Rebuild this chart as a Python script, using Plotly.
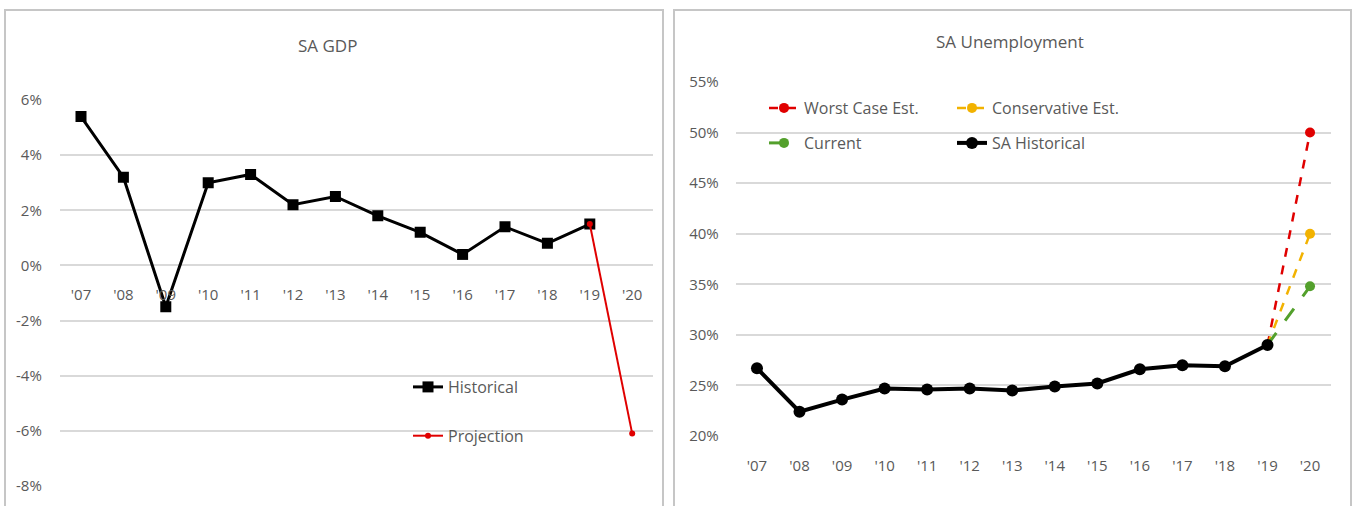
import plotly.graph_objects as go

W, H = 1358, 506

years = ["'07", "'08", "'09", "'10", "'11", "'12", "'13", "'14", "'15", "'16", "'17", "'18", "'19", "'20"]

# SA GDP growth (%)
gdp_hist_x = years[:13]
gdp_hist = [5.4, 3.2, -1.5, 3.0, 3.3, 2.2, 2.5, 1.8, 1.2, 0.4, 1.4, 0.8, 1.5]
gdp_proj_x = ["'19", "'20"]
gdp_proj = [1.5, -6.1]

# SA Unemployment (%)
unemp_hist_x = years[:13]
unemp_hist = [26.7, 22.4, 23.6, 24.7, 24.6, 24.7, 24.5, 24.9, 25.2, 26.6, 27.0, 26.9, 29.0]
proj_x = ["'19", "'20"]
worst_case = [29.0, 50.0]
conservative = [29.0, 40.0]
current = [29.0, 34.8]

gdp_ticks = [-8, -6, -4, -2, 0, 2, 4, 6]
gdp_ticktext = ["-8%", "-6%", "-4%", "-2%", "0%", "2%", "4%", "6%"]
un_ticks = [20, 25, 30, 35, 40, 45, 50, 55]
un_ticktext = ["20%", "25%", "30%", "35%", "40%", "45%", "50%", "55%"]

FONT = "Open Sans"
TXT = "#595959"
GRID = "#d9d9d9"
RED = "#e00000"
GOLD = "#f2b200"
GREEN = "#53a02c"

def px(x):
    return x / W

def py(y):
    return 1 - y / H

fig = go.Figure()

# Left chart
fig.add_trace(go.Scatter(x=gdp_hist_x, y=gdp_hist, mode="lines+markers", name="Historical",
                         line=dict(color="black", width=3), marker=dict(symbol="square", size=11, color="black"),
                         xaxis="x", yaxis="y", legend="legend", legendgroup="h"))
fig.add_trace(go.Scatter(x=gdp_proj_x, y=gdp_proj, mode="lines+markers", name="Projection",
                         line=dict(color=RED, width=2), marker=dict(symbol="circle", size=6, color=RED),
                         xaxis="x", yaxis="y", legend="legend", legendgroup="p"))

# Right chart
fig.add_trace(go.Scatter(x=proj_x, y=worst_case, mode="lines+markers", name="Worst Case Est.",
                         line=dict(color=RED, width=2.5, dash="dash"), marker=dict(size=10, color=RED),
                         xaxis="x2", yaxis="y2", legend="legend2"))
fig.add_trace(go.Scatter(x=proj_x, y=conservative, mode="lines+markers", name="Conservative Est.",
                         line=dict(color=GOLD, width=2.5, dash="dash"), marker=dict(size=10, color=GOLD),
                         xaxis="x2", yaxis="y2", legend="legend2"))
fig.add_trace(go.Scatter(x=proj_x, y=current, mode="lines+markers", name="Current",
                         line=dict(color=GREEN, width=3, dash="longdash"), marker=dict(size=10, color=GREEN),
                         xaxis="x2", yaxis="y2", legend="legend3"))
fig.add_trace(go.Scatter(x=unemp_hist_x, y=unemp_hist, mode="lines+markers", name="SA Historical",
                         line=dict(color="black", width=4), marker=dict(size=12, color="black"),
                         xaxis="x2", yaxis="y2", legend="legend3"))

axis_common = dict(showline=False, zeroline=False, tickfont=dict(family=FONT, size=15, color=TXT),
                   fixedrange=True, automargin=False)

fig.update_layout(
    width=W, height=H,
    margin=dict(l=0, r=0, t=0, b=0, autoexpand=False),
    paper_bgcolor="white", plot_bgcolor="rgba(0,0,0,0)",
    font=dict(family=FONT, color=TXT),
    xaxis=dict(domain=[px(59.8), px(653.4)], type="category", categoryorder="array", categoryarray=years,
               range=[-0.5, 13.5], anchor="free", position=py(265), showgrid=False,
               ticks="outside", ticklen=16, tickcolor="rgba(0,0,0,0)", **axis_common),
    yaxis=dict(domain=[py(486), py(100)], range=[-8, 6], tickvals=gdp_ticks, ticktext=gdp_ticktext,
               showgrid=True, gridcolor=GRID, gridwidth=1.5, anchor="x",
               ticks="outside", ticklen=14, tickcolor="rgba(0,0,0,0)", **axis_common),
    xaxis2=dict(domain=[px(735.7), px(1331.3)], type="category", categoryorder="array", categoryarray=years,
                range=[-0.5, 13.5], anchor="y2", showgrid=False,
                ticks="outside", ticklen=16, tickcolor="rgba(0,0,0,0)", **axis_common),
    yaxis2=dict(domain=[py(436), py(82)], range=[20, 55], tickvals=un_ticks, ticktext=un_ticktext,
                showgrid=True, gridcolor=GRID, gridwidth=1.5, anchor="x2",
                ticks="outside", ticklen=13, tickcolor="rgba(0,0,0,0)", **axis_common),
    legend=dict(x=px(408), y=py(370), xanchor="left", yanchor="top", orientation="v",
                traceorder="grouped", tracegroupgap=25, bgcolor="rgba(0,0,0,0)",
                font=dict(family=FONT, size=16, color=TXT), itemwidth=30),
    legend2=dict(x=px(764), y=py(108), xanchor="left", yanchor="middle", orientation="h",
                 entrywidth=143, entrywidthmode="pixels", bgcolor="rgba(0,0,0,0)",
                 font=dict(family=FONT, size=16, color=TXT), itemwidth=30),
    legend3=dict(x=px(764), y=py(143), xanchor="left", yanchor="middle", orientation="h",
                 entrywidth=143, entrywidthmode="pixels", bgcolor="rgba(0,0,0,0)",
                 font=dict(family=FONT, size=16, color=TXT), itemwidth=30),
    showlegend=True,
    annotations=[
        dict(text="SA GDP", x=px(327), y=py(45), xref="paper", yref="paper", showarrow=False,
             font=dict(family=FONT, size=17, color=TXT), xanchor="center", yanchor="middle"),
        dict(text="SA Unemployment", x=px(1010), y=py(42), xref="paper", yref="paper", showarrow=False,
             font=dict(family=FONT, size=17, color=TXT), xanchor="center", yanchor="middle"),
    ],
    shapes=[
        dict(type="rect", xref="paper", yref="paper", x0=px(5), x1=px(663), y0=py(520), y1=py(10),
             line=dict(color="#c6c6c6", width=2), fillcolor="rgba(0,0,0,0)", layer="below"),
        dict(type="rect", xref="paper", yref="paper", x0=px(674), x1=px(1351), y0=py(520), y1=py(10),
             line=dict(color="#c6c6c6", width=2), fillcolor="rgba(0,0,0,0)", layer="below"),
        dict(type="rect", xref="paper", yref="paper", x0=px(745), x1=px(1122), y0=py(158), y1=py(95),
             line=dict(width=0), fillcolor="white", layer="between"),
    ],
)

fig.write_html("out.html")
